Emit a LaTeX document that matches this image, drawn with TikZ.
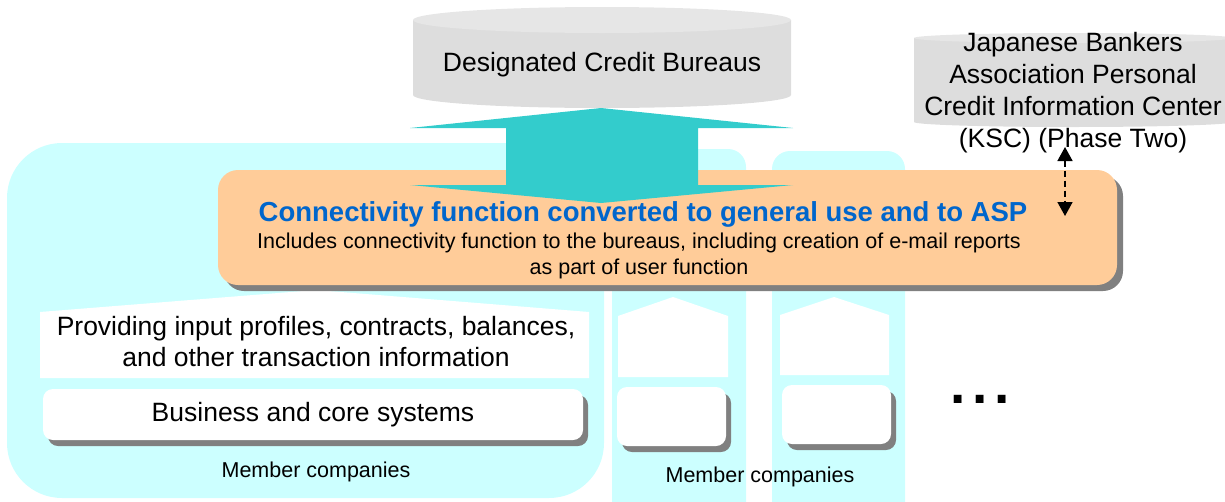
\documentclass[tikz,border=0pt]{standalone}
\usepackage{fontspec}
\setmainfont{Liberation Sans}
\usetikzlibrary{arrows.meta}
\definecolor{panel}{HTML}{CCFFFF}
\definecolor{tealarrow}{HTML}{33CCCC}
\definecolor{orng}{HTML}{FFCC99}
\definecolor{shad}{HTML}{808080}
\definecolor{ttl}{HTML}{0066CC}
\definecolor{cylbody}{HTML}{DDDDDD}
\definecolor{cyltop}{HTML}{E6E6E6}
\begin{document}
\begin{tikzpicture}[x=1pt,y=-1pt,
  bigtxt/.style={font=\fontsize{26.5}{31}\selectfont, inner sep=0pt, align=center},
  smalltxt/.style={font=\fontsize{21.5}{26}\selectfont, inner sep=0pt, align=center},
  shadowbox/.style={fill=shad, rounded corners=#1},
  whitebox/.style={fill=white, rounded corners=#1},
  dasharrow/.style={black, line width=1.6pt, dash pattern=on 6pt off 4pt,
    {Triangle[length=14pt,width=15pt]}-{Triangle[length=14pt,width=15pt]}}]
\useasboundingbox (0,0) rectangle (1225,501);
\clip (0,0) rectangle (1225,501);

% member company panels
\fill[panel, rounded corners=55pt] (7,143) rectangle (604,498);
\fill[panel, rounded corners=18pt] (612,149) rectangle (746,540);
\fill[panel, rounded corners=18pt] (772,151) rectangle (905,540);

% pentagons (information providers)
\fill[white] (40,378) -- (40,312) -- (316,290) -- (589,312) -- (589,378) -- cycle;
\fill[white] (618,377) -- (618,316) -- (673,297) -- (728,316) -- (728,377) -- cycle;
\fill[white] (780,375) -- (780,315) -- (834,297) -- (889,315) -- (889,375) -- cycle;

% business systems boxes
\fill[shadowbox=10pt] (48,395) rectangle (588,446);
\fill[whitebox=10pt] (43,389) rectangle (583,440);
\fill[shadowbox=10pt] (622,393) rectangle (731,452);
\fill[whitebox=10pt] (617,387) rectangle (726,446);
\fill[shadowbox=10pt] (787,391) rectangle (896,450);
\fill[whitebox=10pt] (782,385) rectangle (891,444);

% connectivity box
\fill[shadowbox=20pt] (224,176) rectangle (1123,291);
\fill[fill=orng, rounded corners=20pt] (218,170) rectangle (1117,285);

% Designated Credit Bureaus cylinder
\fill[cylbody] (413,20) -- (413,95) arc[start angle=180, end angle=0, x radius=189, y radius=13] -- (791,20) -- cycle;
\fill[cyltop] (602,20) ellipse[x radius=189, y radius=13];
\node[bigtxt] (dcb) at (602,65) {Designated Credit Bureaus};

% KSC cylinder
\fill[cylbody] (914,38) -- (914,122) arc[start angle=180, end angle=0, x radius=159, y radius=5] -- (1232,38) -- cycle;
\fill[cyltop] (1073,38) ellipse[x radius=159, y radius=5];
\node[bigtxt, font=\fontsize{26.5}{32}\selectfont] (ksc) at (1073,93) {Japanese Bankers\\Association Personal\\Credit Information Center\\(KSC) (Phase Two)};

% double arrow between bureaus and connectivity function
\fill[tealarrow] (601,108) -- (793,128) -- (698,128) -- (698,185) -- (793,185) -- (601,203)
  -- (410,185) -- (506,185) -- (506,128) -- (410,128) -- cycle;

% texts in connectivity box
\node[inner sep=0pt, font=\fontsize{27.5}{31}\selectfont\bfseries, text=ttl] (title) at (643,214)
  {Connectivity function converted to general use and to ASP};
\node[smalltxt] (sub) at (639,256) {Includes connectivity function to the bureaus, including creation of e-mail reports\\as part of user function};

% dashed arrow to KSC
\coordinate (kscend) at (1065,147);
\coordinate (connend) at (1065,216);
\draw[dasharrow] (kscend) -- (connend);

% member company texts
\node[bigtxt] (prov) at (316,342) {Providing input profiles, contracts, balances,\\and other transaction information};
\node[bigtxt] (bcs) at (313,415) {Business and core systems};
\node[smalltxt] (mc1) at (316,472) {Member companies};
\node[smalltxt] (mc2) at (760,477) {Member companies};

% ellipsis
\node[inner sep=0pt, font=\fontsize{55}{55}\selectfont\bfseries] (dots) at (980,399) {.\hspace{6.7pt}.\hspace{6.7pt}.};
\end{tikzpicture}
\end{document}
